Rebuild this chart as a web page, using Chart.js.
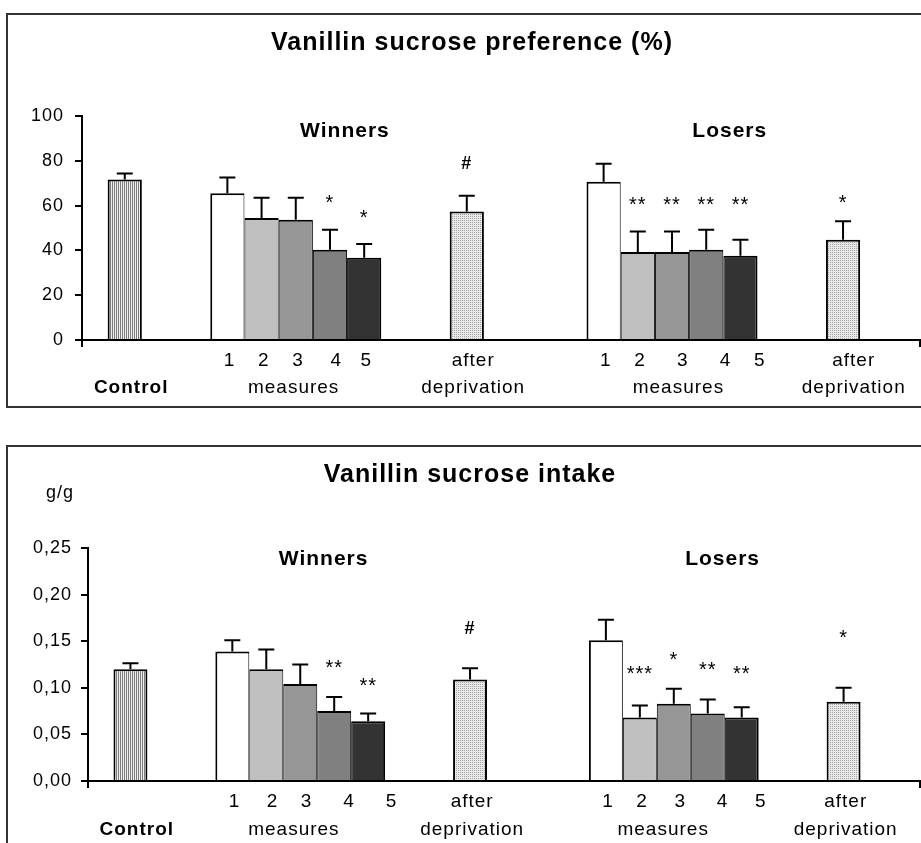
<!DOCTYPE html>
<html>
<head>
<meta charset="utf-8">
<script src="https://cdn.jsdelivr.net/npm/chart.js@4/dist/chart.umd.min.js"></script>
<style>
  html, body { margin: 0; padding: 0; background: #fff; width: 921px; height: 843px; overflow: hidden; }
  .box { position: absolute; border: 2px solid #333; box-sizing: border-box; }
  #box1 { left: 6px; top: 13px; width: 960px; height: 395px; }
  #box2 { left: 6px; top: 445px; width: 960px; height: 440px; }
  canvas { position: absolute; left: 0; }
  #c1 { top: 0; }
  #c2 { top: 420px; }
</style>
</head>
<body>
<div class="box" id="box1"></div>
<div class="box" id="box2"></div>
<canvas id="c1" width="921" height="407"></canvas>
<canvas id="c2" width="921" height="423"></canvas>
<script>
// データ
const barNames = ['Control', 'W1', 'W2', 'W3', 'W4', 'W5', 'W after', 'L1', 'L2', 'L3', 'L4', 'L5', 'L after'];
const groupNames = ['Winners', 'Losers'];

const prefMean = [71.7, 65.5, 54.5, 53.7, 40.3, 36.7, 57.4, 70.7, 39.3, 39.3, 40.3, 37.6, 44.8];
const prefSem = [2.6, 7.0, 9.0, 9.8, 8.9, 6.2, 7.0, 8.0, 9.1, 9.1, 8.9, 7.2, 8.2];
const prefMarks = ['', '', '', '', '*', '*', '#', '', '**', '**', '**', '**', '*'];
const prefMarkAt = [null, null, null, null, 63.8, 57.1, 79.2, null, 62.8, 62.8, 62.8, 62.8, 63.8];
const prefTicks = [0, 20, 40, 60, 80, 100];

const intakeMean = [0.120, 0.139, 0.120, 0.104, 0.075, 0.064, 0.109, 0.151, 0.068, 0.083, 0.0725, 0.068, 0.085];
const intakeSem = [0.0064, 0.012, 0.021, 0.021, 0.015, 0.0085, 0.012, 0.022, 0.013, 0.016, 0.015, 0.011, 0.015];
const intakeMarks = ['', '', '', '', '**', '**', '#', '', '***', '*', '**', '**', '*'];
const intakeMarkAt = [null, null, null, null, 0.127, 0.108, 0.165, null, 0.121, 0.136, 0.125, 0.121, 0.159];
const intakeTicks = [0, 0.05, 0.10, 0.15, 0.20, 0.25];

const axisRow1 = ['1', '2', '3', '4', '5', 'after', '1', '2', '3', '4', '5', 'after'];
const axisRow2 = ['Control', 'measures', 'deprivation', 'measures', 'deprivation'];

// レイアウト（スロット位置・スタイル）
const slotCount = 49;
const barSlots = [2, 8, 10, 12, 14, 16, 22, 30, 32, 34, 36, 38, 44];
const labelSlotCount = 196;
const FONT = "'Liberation Sans', Arial, sans-serif";

function makePattern(w, h, draw) {
  const c = document.createElement('canvas');
  c.width = w;
  c.height = h;
  const g = c.getContext('2d');
  draw(g);
  return g.createPattern(c, 'repeat');
}

const stripes = makePattern(2, 1, g => {
  g.fillStyle = '#f0f0f0'; g.fillRect(0, 0, 2, 1);
  g.fillStyle = '#7c7c7c'; g.fillRect(0, 0, 1, 1);
});
const dots = makePattern(2, 2, g => {
  g.fillStyle = '#e8e8e8'; g.fillRect(0, 0, 2, 2);
  g.fillStyle = '#a6a6a6'; g.fillRect(0, 0, 1, 1);
});
const barFills = [stripes, '#ffffff', '#c0c0c0', '#969696', '#808080', '#333333', dots,
  '#ffffff', '#c0c0c0', '#969696', '#808080', '#333333', dots];

Chart.defaults.font.family = FONT;
Chart.defaults.color = '#000';

// 文字間隔（元図の横に広い文字に合わせる）
const spacing = {
  id: 'spacing',
  beforeUpdate(chart) { chart.ctx.letterSpacing = '1px'; },
  beforeDraw(chart) { chart.ctx.letterSpacing = '1px'; }
};

// 誤差棒・有意記号・グループ名を描く
function annotations(p) {
  return {
    id: 'annotations',
    afterDatasetsDraw(chart) {
      const { ctx, chartArea } = chart;
      const { y, x2 } = chart.scales;
      const bars = chart.getDatasetMeta(0).data;
      ctx.save();
      ctx.letterSpacing = '1px';
      ctx.strokeStyle = '#000';
      ctx.fillStyle = '#000';
      ctx.lineWidth = 2;
      ctx.textAlign = 'center';
      ctx.textBaseline = 'alphabetic';
      barSlots.forEach((slot, i) => {
        const bar = bars[slot];
        const top = y.getPixelForValue(p.mean[i] + p.sem[i]);
        ctx.beginPath();
        ctx.moveTo(bar.x, bar.y);
        ctx.lineTo(bar.x, top);
        ctx.moveTo(bar.x - 8, top);
        ctx.lineTo(bar.x + 8, top);
        ctx.stroke();
        const mark = p.marks[i];
        if (mark) {
          const my = y.getPixelForValue(p.markAt[i]);
          if (mark === '#') {
            ctx.font = 'bold 18px ' + FONT;
            ctx.fillText(mark, bar.x, my + 18 * 0.35);
          } else {
            ctx.font = '20px ' + FONT;
            ctx.fillText(mark, bar.x, my + 20 * 0.58);
          }
        }
      });
      ctx.font = 'bold 21px ' + FONT;
      groupNames.forEach((g, i) => {
        ctx.fillText(g, x2.getPixelForValue(p.groupSlots[i]), y.getPixelForValue(p.groupAt) + 21 * 0.36);
      });
      if (p.unit) {
        ctx.font = '18px ' + FONT;
        ctx.textBaseline = 'middle';
        ctx.fillText(p.unit, chartArea.left - 28, chartArea.top - 55);
      }
      ctx.restore();
    }
  };
}

// 軸の下の2段ラベルを作る
function axisLabels(row1Slots, row2Slots) {
  const labels = Array(labelSlotCount).fill('');
  row1Slots.forEach((s, i) => { labels[s] = [axisRow1[i]]; });
  row2Slots.forEach((s, i) => {
    labels[s] = labels[s] ? [labels[s][0], axisRow2[i]] : ['', axisRow2[i]];
  });
  return labels;
}

function drawPanel(id, p) {
  const labels = Array(slotCount).fill('');
  const values = Array(slotCount).fill(null);
  const colors = Array(slotCount).fill('#fff');
  const widths = Array(slotCount).fill(2);
  barSlots.forEach((s, i) => {
    labels[s] = barNames[i];
    values[s] = p.mean[i];
    colors[s] = barFills[i];
    const joinedRight = barSlots[i + 1] === s + 2;
    const joinedLeft = barSlots[i - 1] === s - 2;
    widths[s] = { top: 2, left: joinedLeft ? 1 : 2, right: joinedRight ? 1 : 2, bottom: 0 };
  });
  const ticks = p.ticks;

  return new Chart(document.getElementById(id), {
    type: 'bar',
    data: {
      labels,
      datasets: [{
        data: values,
        backgroundColor: colors,
        borderColor: '#000',
        borderWidth: ctx => widths[ctx.dataIndex],
        borderSkipped: 'start',
        inflateAmount: 0,
        categoryPercentage: 1,
        barPercentage: 2
      }]
    },
    options: {
      responsive: false,
      animation: false,
      events: [],
      layout: { padding: { left: p.padLeft, right: 1, top: 0, bottom: 0 } },
      plugins: {
        legend: { display: false },
        tooltip: { enabled: false },
        title: {
          display: true,
          text: p.title,
          color: '#000',
          font: { size: 25, weight: 'bold', lineHeight: '30px' },
          padding: { top: p.titleTop, bottom: p.titleBottom }
        }
      },
      scales: {
        x: {
          type: 'category',
          offset: true,
          weight: 0,
          grid: {
            offset: true,
            drawOnChartArea: false,
            tickLength: 7,
            lineWidth: 2,
            color: c => (c.type === 'scale' || c.index === 0) ? '#000' : 'rgba(0,0,0,0)'
          },
          border: { color: '#000', width: 2 },
          ticks: { display: false },
          afterFit: s => { s.height = 7; }
        },
        x2: {
          type: 'category',
          position: 'bottom',
          labels: axisLabels(p.row1Slots, p.row2Slots),
          offset: true,
          weight: 1,
          grid: { display: false, drawTicks: false, tickLength: 0 },
          border: { display: false },
          ticks: {
            autoSkip: false,
            maxRotation: 0,
            minRotation: 0,
            padding: 0,
            color: '#000',
            font: c => ({
              size: 19,
              lineHeight: p.rowGap,
              weight: [].concat(c.tick ? c.tick.label : '').includes('Control') ? 'bold' : 'normal'
            })
          },
          afterFit: s => { s.height = p.labelHeight; }
        },
        y: {
          min: ticks[0],
          max: ticks[ticks.length - 1],
          ticks: {
            stepSize: ticks[1] - ticks[0],
            padding: p.tickPad,
            color: '#000',
            font: { size: 18 },
            callback: p.format
          },
          grid: { drawOnChartArea: false, tickLength: 7, lineWidth: 2, color: '#000' },
          border: { color: '#000', width: 2 },
          afterFit: s => { s.width = p.axisWidth; }
        }
      }
    },
    plugins: [spacing, annotations(p)]
  });
}

drawPanel('c1', {
  title: 'Vanillin sucrose preference (%)',
  mean: prefMean, sem: prefSem, marks: prefMarks, markAt: prefMarkAt, ticks: prefTicks,
  format: v => String(v),
  groupSlots: [61, 151], groupAt: 94.1,
  row1Slots: [34, 42, 50, 59, 66, 91, 122, 130, 140, 150, 158, 180],
  row2Slots: [11, 49, 91, 139, 180],
  padLeft: 24, axisWidth: 58, tickPad: 11,
  titleTop: 28, titleBottom: 58,
  rowGap: '27px', labelHeight: 60
});

drawPanel('c2', {
  title: 'Vanillin sucrose intake',
  unit: 'g/g',
  mean: intakeMean, sem: intakeSem, marks: intakeMarks, markAt: intakeMarkAt, ticks: intakeTicks,
  format: v => v.toFixed(2).replace('.', ','),
  groupSlots: [55, 149], groupAt: 0.2397,
  row1Slots: [34, 43, 51, 61, 71, 90, 122, 130, 139, 149, 158, 178],
  row2Slots: [11, 48, 90, 135, 178],
  padLeft: 20, axisWidth: 68, tickPad: 9,
  titleTop: 40, titleBottom: 58,
  rowGap: '28px', labelHeight: 55
});
</script>
</body>
</html>
